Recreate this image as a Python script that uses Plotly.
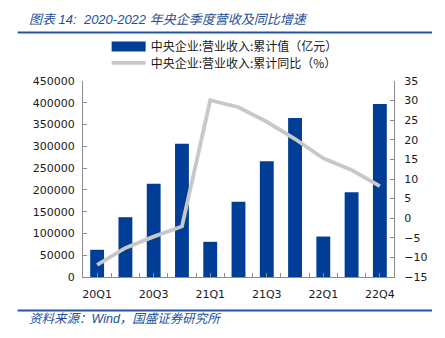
import plotly.graph_objects as go

categories = ["20Q1", "20Q2", "20Q3", "20Q4", "21Q1", "21Q2", "21Q3", "21Q4", "22Q1", "22Q2", "22Q4"]
revenue = [62500, 137300, 214200, 305800, 80800, 173000, 265500, 365300, 92900, 194600, 397400]
yoy = [-11.9, -7.6, -4.7, -2.1, 30.1, 28.3, 24.6, 20.2, 15.3, 12.3, 8.2]
shown_ticks = [0, 2, 4, 6, 8, 10]

name_bar = "中央企业:营业收入:累计值（亿元）"
name_line = "中央企业:营业收入:累计同比（%）"

BLUE = "#003d96"
GREY = "#c8c8c8"
TXT = "#1a1a1a"
FONT = "DejaVu Sans, Noto Sans CJK SC, sans-serif"
CJK = "Noto Sans CJK SC, DejaVu Sans, sans-serif"
HEAD = "Liberation Sans, Noto Sans CJK SC, sans-serif"

xs = list(range(len(categories)))

fig = go.Figure()
fig.add_trace(go.Bar(x=xs, y=revenue, name=name_bar, marker=dict(color=BLUE, line=dict(width=0)),
                     width=0.49, showlegend=False, yaxis="y"))
fig.add_trace(go.Scatter(x=[None], y=[None], mode="lines", name=name_bar,
                         line=dict(color=BLUE, width=10), yaxis="y", legend="legend"))
fig.add_trace(go.Scatter(x=xs, y=yoy, mode="lines", name=name_line,
                         line=dict(color=GREY, width=3.8), yaxis="y2", legend="legend2"))

axis_common = dict(showline=True, linecolor="#8c8c8c", linewidth=1, ticks="inside",
                   ticklen=4, tickcolor="#8c8c8c", showgrid=False, zeroline=False,
                   tickfont=dict(family=FONT, size=11, color=TXT))

legend_common = dict(x=0.076, xanchor="left", yanchor="middle",
                     font=dict(family=CJK, size=12, color=TXT), itemwidth=34,
                     bgcolor="rgba(0,0,0,0)", borderwidth=0)

fig.update_layout(
    width=445, height=338,
    margin=dict(l=83, r=51, t=81, b=61),
    paper_bgcolor="white", plot_bgcolor="white",
    xaxis=dict(**axis_common, range=[-0.5, len(categories) - 0.5],
               tickmode="array", tickvals=shown_ticks,
               ticktext=[categories[i] for i in shown_ticks], ticklabelstandoff=7,
               minor=dict(tickvals=[i + 0.5 for i in range(len(categories) - 1)],
                          ticks="inside", ticklen=4, tickcolor="#8c8c8c")),
    yaxis=dict(**axis_common, range=[0, 450000], dtick=50000, tickformat="d",
               ticklabelstandoff=5),
    yaxis2=dict(**axis_common, range=[-15, 35], dtick=5, overlaying="y", side="right",
                ticklabelstandoff=7),
    legend=dict(**legend_common, y=1.176),
    legend2=dict(**legend_common, y=1.092),
    shapes=[
        dict(type="line", xref="paper", yref="paper", x0=-0.21, x1=1.122, y0=1.248, y1=1.248,
             line=dict(color="#2453a0", width=2)),
        dict(type="line", xref="paper", yref="paper", x0=-0.21, x1=1.122, y0=-0.171, y1=-0.171,
             line=dict(color="#2453a0", width=2)),
    ],
    annotations=[
        dict(text="<i>图表 14:  2020-2022 年央企季度营收及同比增速</i>", xref="paper", yref="paper",
             x=-0.181, y=1.314, xanchor="left", yanchor="middle", showarrow=False,
             font=dict(family=HEAD, size=13, color="#23509c")),
        dict(text="<i>资料来源：Wind，国盛证券研究所</i>", xref="paper", yref="paper",
             x=-0.181, y=-0.212, xanchor="left", yanchor="middle", showarrow=False,
             font=dict(family=HEAD, size=12.5, color="#23509c")),
    ],
)

fig.write_html("out.html")
